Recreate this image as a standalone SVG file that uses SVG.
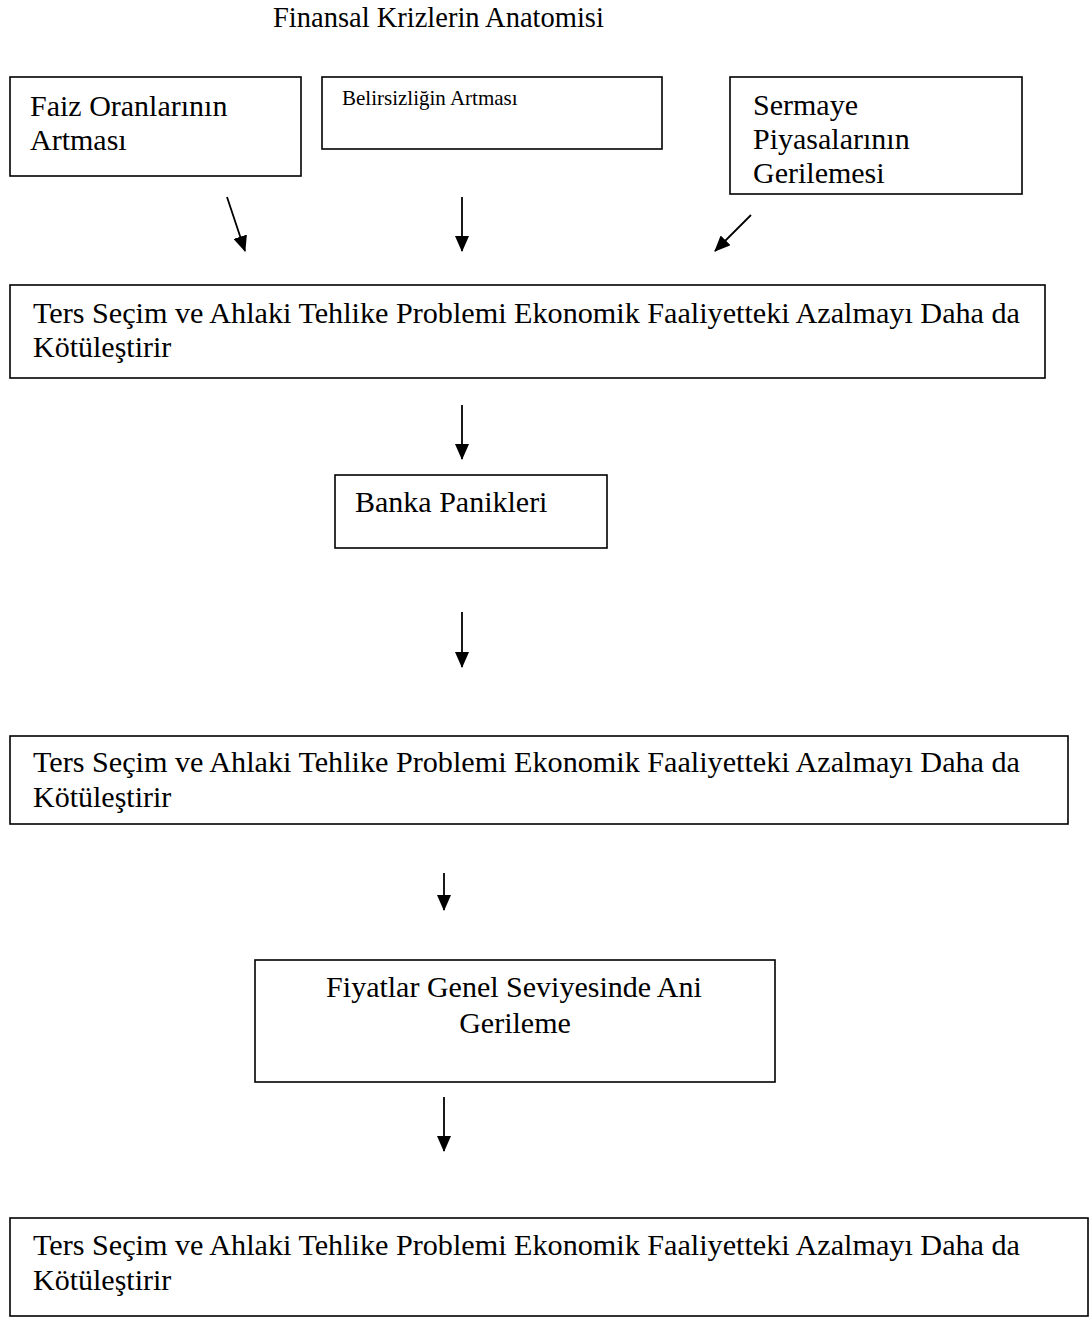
<svg xmlns="http://www.w3.org/2000/svg" width="1092" height="1325" viewBox="0 0 1092 1325">
<style>
.box{fill:#fff;stroke:#000;stroke-width:1.6}
.t{font-family:"Liberation Serif","Times New Roman",serif;font-size:30px;fill:#000}
.s{font-family:"Liberation Serif","Times New Roman",serif;font-size:21px;fill:#000}
.c{stroke:#000;stroke-width:1.8;fill:none;marker-end:url(#ah)}
</style>
<defs>
<marker id="ah" markerWidth="16" markerHeight="14" refX="15" refY="7" orient="auto" markerUnits="userSpaceOnUse">
<path d="M0,0 L16,7 L0,14 Z" fill="#000"/>
</marker>
</defs>
<rect width="1092" height="1325" fill="#fff"/>
<text class="t" x="273" y="27" style="font-size:28.5px">Finansal Krizlerin Anatomisi</text>
<g id="faiz">
<rect class="box" x="10" y="77" width="291" height="99"/>
<text class="t" x="30" y="116">Faiz Oranlarının</text>
<text class="t" x="30" y="150">Artması</text>
</g>
<g id="belirsizlik">
<rect class="box" x="322" y="77" width="340" height="72"/>
<text class="s" x="342" y="105">Belirsizliğin Artması</text>
</g>
<g id="sermaye">
<rect class="box" x="730" y="77" width="292" height="117"/>
<text class="t" x="753" y="115">Sermaye</text>
<text class="t" x="753" y="149">Piyasalarının</text>
<text class="t" x="753" y="183">Gerilemesi</text>
</g>
<g id="ters1">
<rect class="box" x="10" y="285" width="1035" height="93"/>
<text class="t" x="33" y="323" textLength="987" lengthAdjust="spacingAndGlyphs">Ters Seçim ve Ahlaki Tehlike Problemi Ekonomik Faaliyetteki Azalmayı Daha da</text>
<text class="t" x="33" y="357">Kötüleştirir</text>
</g>
<g id="banka">
<rect class="box" x="335" y="475" width="272" height="73"/>
<text class="t" x="355" y="512">Banka Panikleri</text>
</g>
<g id="ters2">
<rect class="box" x="10" y="736" width="1058" height="88"/>
<text class="t" x="33" y="772" textLength="987" lengthAdjust="spacingAndGlyphs">Ters Seçim ve Ahlaki Tehlike Problemi Ekonomik Faaliyetteki Azalmayı Daha da</text>
<text class="t" x="33" y="807">Kötüleştirir</text>
</g>
<g id="fiyatlar">
<rect class="box" x="255" y="960" width="520" height="122"/>
<text class="t" x="514" y="997" text-anchor="middle">Fiyatlar Genel Seviyesinde Ani</text>
<text class="t" x="515" y="1033" text-anchor="middle">Gerileme</text>
</g>
<g id="ters3">
<rect class="box" x="10" y="1218" width="1078" height="98"/>
<text class="t" x="33" y="1255" textLength="987" lengthAdjust="spacingAndGlyphs">Ters Seçim ve Ahlaki Tehlike Problemi Ekonomik Faaliyetteki Azalmayı Daha da</text>
<text class="t" x="33" y="1290">Kötüleştirir</text>
</g>
<g id="connectors">
<line class="c" x1="227" y1="197" x2="245" y2="251"/>
<line class="c" x1="462" y1="197" x2="462" y2="251"/>
<line class="c" x1="751" y1="215" x2="715" y2="251"/>
<line class="c" x1="462" y1="405" x2="462" y2="459"/>
<line class="c" x1="462" y1="612" x2="462" y2="667"/>
<line class="c" x1="444" y1="873" x2="444" y2="910"/>
<line class="c" x1="444" y1="1097" x2="444" y2="1151"/>
</g>
</svg>
